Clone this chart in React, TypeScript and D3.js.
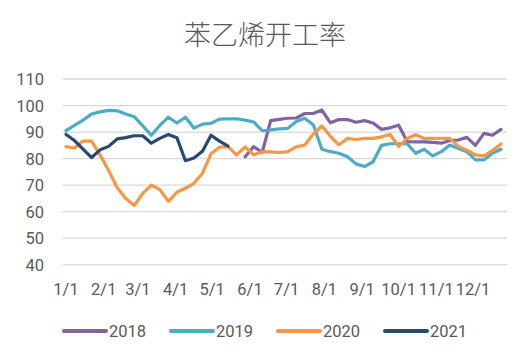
import React, { useEffect, useRef } from "react";
import * as d3 from "d3";

// weekly values, index = week of year (0..51); null = no data
const weeks = d3.range(52);
const monthLabels = ["1/1", "2/1", "3/1", "4/1", "5/1", "6/1", "7/1", "8/1", "9/1", "10/1", "11/1", "12/1"];
const monthStartDays = [0, 31, 59, 90, 120, 151, 181, 212, 243, 273, 304, 334];
const yTicks = [40, 50, 60, 70, 80, 90, 100, 110];

const s2018: (number | null)[] = [
  null, null, null, null, null, null, null, null, null, null,
  null, null, null, null, null, null, null, null, null, null,
  null, 80.7, 84.5, 82.3, 94.3, 94.8, 95.2, 95.3, 97, 97,
  98.3, 93.5, 94.7, 94.7, 93.7, 94.3, 93.4, 91, 91.6, 92.6,
  86.4, 86.3, 86.3, 86.1, 85.8, 86.8, 87, 88, 85, 89.5,
  88.8, 91,
];
const s2019: (number | null)[] = [
  90.5, 92.5, 94.5, 96.8, 97.6, 98.2, 98, 96.8, 95.8, 92.3,
  88.8, 92.5, 95.6, 93.4, 95.6, 91.5, 93, 93.3, 94.9, 95,
  95, 94.5, 93.8, 90.5, 90.8, 91.2, 91.4, 94, 95.2, 92.7,
  83.5, 82.6, 82, 80.7, 78, 77, 78.8, 85, 85.6, 85.6,
  85.6, 82, 83.5, 81, 82.6, 85.1, 83.8, 82.6, 79.5, 79.5,
  82, 83.5,
];
const s2020: (number | null)[] = [
  84.5, 84, 86.6, 86.6, 81.3, 75.5, 69, 65, 62.3, 66.9,
  70, 68.3, 63.9, 67.3, 68.8, 70.7, 74.5, 81.8, 84.3, 84.5,
  81.4, 84.4, 81.4, 82.6, 82.5, 82.3, 82.6, 84.4, 85.1, 89.3,
  92.3, 88.4, 85.2, 87.6, 87.2, 87.6, 87.6, 88.2, 89.1, 84.6,
  87.6, 89, 87.6, 87.6, 87.6, 87.6, 84.6, 83.2, 81.4, 81,
  83, 85.5,
];
const s2021: (number | null)[] = [
  89.1, 86.8, 83.6, 80.4, 83.3, 84.6, 87.4, 87.9, 88.6, 88.6,
  85.8, 87.6, 89.1, 87.9, 79.2, 80.2, 82.8, 88.8, 86.6, 84.7,
];

const series = [
  { name: "2018", values: s2018, color: "#8064A2" },
  { name: "2019", values: s2019, color: "#4BACC6" },
  { name: "2020", values: s2020, color: "#F79646" },
  { name: "2021", values: s2021, color: "#264A72" },
];

const labelFont = "Roboto, 'Open Sans', sans-serif";

export default function App() {
  const ref = useRef<SVGSVGElement>(null);

  useEffect(() => {
    const svg = d3.select(ref.current);
    svg.selectAll("*").remove();

    const x = d3.scaleLinear().domain([0, 51]).range([66, 501]);
    const y = d3.scaleLinear().domain([40, 110]).range([264.7, 79]);

    svg.append("text")
      .attr("x", 265)
      .attr("y", 45)
      .attr("text-anchor", "middle")
      .style("font-family", "'Noto Sans CJK SC', sans-serif")
      .style("font-weight", 300)
      .style("font-size", "27px")
      .style("fill", "#595959")
      .text("苯乙烯开工率");

    // grid
    svg.append("g")
      .selectAll("line")
      .data(yTicks)
      .enter()
      .append("line")
      .attr("x1", 63)
      .attr("x2", 507)
      .attr("y1", (d) => y(d))
      .attr("y2", (d) => y(d))
      .attr("stroke", "#d9d9d9")
      .attr("stroke-width", 1.3);

    svg.append("g")
      .selectAll("text")
      .data(yTicks)
      .enter()
      .append("text")
      .attr("x", 44)
      .attr("y", (d) => y(d) + 6)
      .attr("text-anchor", "end")
      .style("font-family", labelFont)
      .style("font-size", "16.5px")
      .style("fill", "#595959")
      .text((d) => d);

    svg.append("g")
      .selectAll("text")
      .data(monthLabels)
      .enter()
      .append("text")
      .attr("x", (d, i) => x(monthStartDays[i] / 7))
      .attr("y", 295)
      .attr("text-anchor", "middle")
      .style("font-family", labelFont)
      .style("font-size", "16.5px")
      .style("fill", "#595959")
      .text((d) => d);

    const line = d3.line<number | null>()
      .defined((d) => d != null)
      .x((d, i) => x(weeks[i]))
      .y((d) => y(d as number));

    series.forEach((s) => {
      svg.append("path")
        .datum(s.values)
        .attr("d", line)
        .attr("fill", "none")
        .attr("stroke", s.color)
        .attr("stroke-width", 3.2)
        .attr("stroke-linejoin", "round")
        .attr("stroke-linecap", "round");
    });

    // legend
    const legend = svg.append("g")
      .selectAll("g")
      .data(series)
      .enter()
      .append("g")
      .attr("transform", (d, i) => `translate(${64 + i * 107}, 331)`);
    legend.append("line")
      .attr("x1", 0)
      .attr("x2", 42)
      .attr("stroke", (d) => d.color)
      .attr("stroke-width", 4)
      .attr("stroke-linecap", "round");
    legend.append("text")
      .attr("x", 45)
      .attr("y", 6)
      .style("font-family", labelFont)
      .style("font-size", "16.5px")
      .style("fill", "#595959")
      .text((d) => d.name);
  }, []);

  return (
    <svg ref={ref} width={530} height={361} style={{ position: "absolute", left: 0, top: 0, background: "#fff" }} />
  );
}
